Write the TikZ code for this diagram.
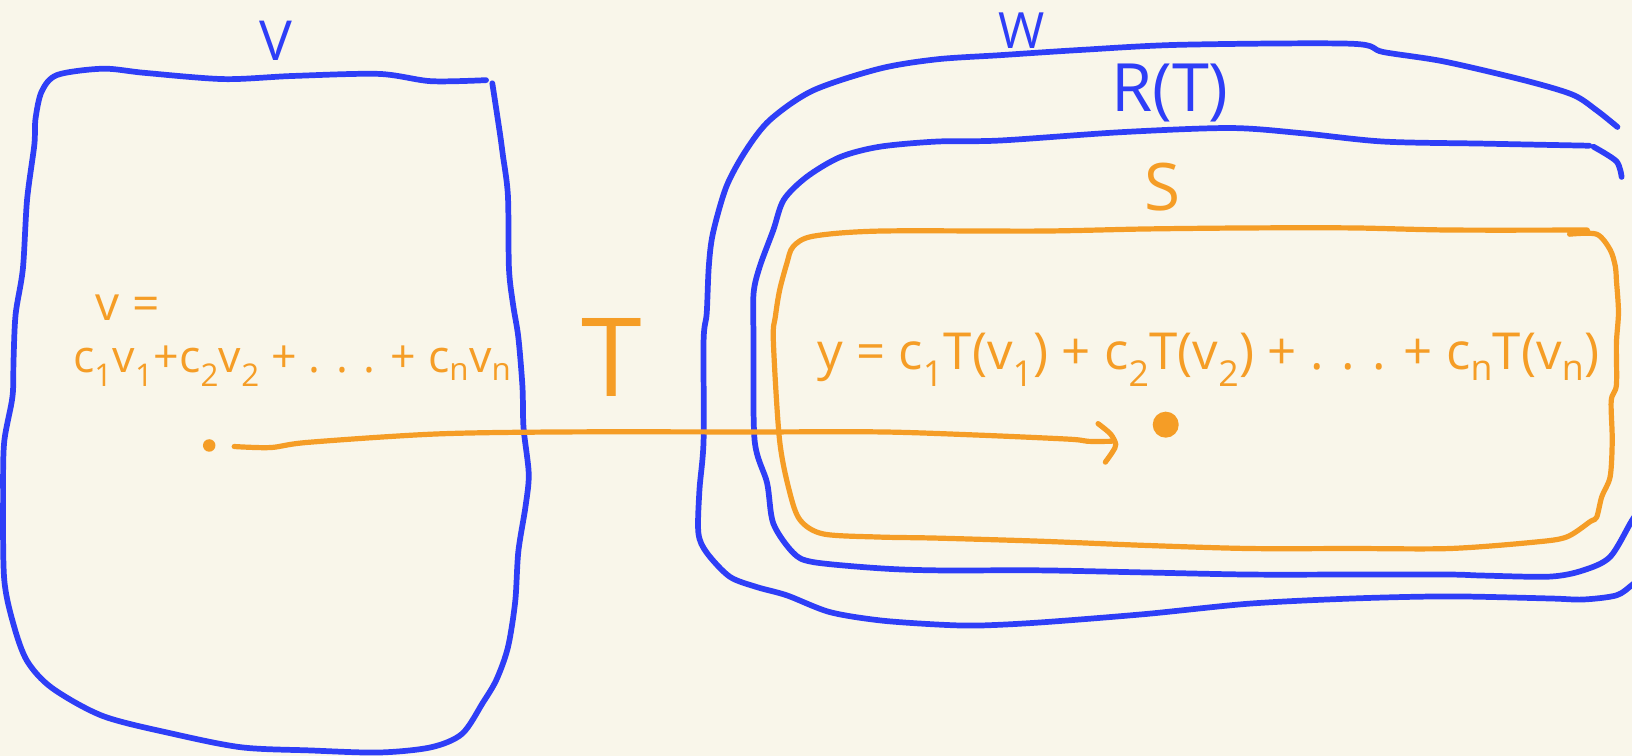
\documentclass[tikz,border=0pt]{standalone}
\usepackage{fontspec}
\setmainfont{Open Sans}
\usetikzlibrary{calc}
\definecolor{paper}{RGB}{249,246,234}
\definecolor{inkblue}{RGB}{46,62,247}
\definecolor{inkorange}{RGB}{245,157,38}
\tikzset{
  blueink/.style={draw=inkblue, line width=5.5pt, line cap=round, line join=round},
  orangeink/.style={draw=inkorange, line width=5pt, line cap=round, line join=round},
  bluelabel/.style={text=inkblue, inner sep=0pt},
  orangelabel/.style={text=inkorange, inner sep=0pt},
  dotmark/.style={circle, fill=inkorange, inner sep=0pt, minimum size=#1},
}
\newcommand{\fs}[1]{\fontsize{#1}{#1}\selectfont}
\newcommand{\ix}[1]{\textsubscript{#1}}
\begin{document}
\begin{tikzpicture}[x=1pt,y=-1pt]
\useasboundingbox (0,0) rectangle (1568,726);
\fill[paper] (0,0) rectangle (1568,726);
\clip (0,0) rectangle (1568,726);

% ---- domain V ----
\draw[blueink] plot[smooth] coordinates {
  (467,77) (414,78) (364,71) (281,73) (215,76) (139,70) (99,66) (55,72)
  (40,88) (34,115) (33,139) (26,192) (22,258) (15,302) (13,346) (12,381)
  (4,425) (3,477) (4,556) (13,600) (26,635) (50,661) (99,688) (166,705)
  (232,718) (298,721) (364,723) (414,718) (444,705) (464,675) (477,653)
  (488,622) (495,578) (498,530) (505,486) (508,455) (503,411) (502,372)
  (498,324) (493,293) (489,258) (488,188) (483,148) (480,126) (473,80)};
\node[bluelabel, font=\fs{53}] (lblV) at (265,39) {V};

% ---- codomain W ----
\draw[blueink] plot[smooth] coordinates {
  (1580,552) (1568,562) (1553,572) (1521,576) (1489,575) (1393,573)
  (1300,575) (1200,580) (1100,590) (1000,598) (940,601) (900,600) (845,596)
  (797,588) (756,572) (727,564) (701,554) (679,531) (671,512) (672,471)
  (676,423) (676,327) (679,301) (681,256) (685,224) (698,179) (717,144)
  (740,115) (781,87) (845,66) (900,57) (961,53) (1038,48) (1135,43)
  (1298,42) (1329,50) (1387,59) (1464,77) (1511,91) (1534,106) (1554,122)};
\node[bluelabel, font=\fs{48}] (lblW) at (982,29) {W};

% ---- range R(T) ----
\draw[blueink] plot[smooth] coordinates {
  (1578,486) (1568,500) (1547,535) (1521,548) (1489,554) (1425,553)
  (1393,552) (1300,552) (1200,552) (1100,550) (1000,548) (900,548) (845,546)
  (781,540) (762,531) (743,503) (737,464) (725,423) (724,327) (724,282)
  (730,256) (743,221) (753,192) (775,170) (807,151) (845,141) (900,136)
  (961,135) (1077,127) (1182,123) (1251,128) (1329,136) (1426,138) (1527,140)};
\draw[blueink] plot[smooth] coordinates {(1531,141) (1553,155) (1558,170)};
\node[bluelabel, font=\fs{64}] (lblR) at (1124,89) {R(T)};

% ---- subset S ----
\draw[orangeink] plot[smooth] coordinates {
  (1508,225) (1534,225) (1547,240) (1552,256) (1553,269) (1555,300)
  (1553,330) (1553,370) (1548,385) (1549,423) (1547,458) (1539,477)
  (1534,497) (1528,501) (1505,516) (1473,521) (1393,527) (1300,527)
  (1200,527) (1100,524) (1000,520) (900,517) (845,516) (791,513) (769,500)
  (759,474) (749,423) (743,327) (745,304) (749,279) (756,253) (762,237)
  (781,227) (845,222) (1000,222) (1100,220) (1200,219) (1300,219)
  (1393,221) (1525,221)};
\node[orangelabel, font=\fs{63}] (lblS) at (1117,180) {S};

% ---- the map T ----
\node[orangelabel, font=\fs{105}] (lblT) at (588,343) {T};

% ---- vectors ----
\node[orangelabel, font=\fs{46}, anchor=base west] (veq) at (92,308) {v =};
\node[orangelabel, font=\fs{43}, anchor=base west] (vsum) at (70,358)
  {c\ix{1}v\ix{1}+c\ix{2}v\ix{2} + . . . + c\ix{n}v\ix{n}};
\node[orangelabel, font=\fs{49}, anchor=base west] (ysum) at (785,355)
  {y = c\ix{1}T(v\ix{1}) + c\ix{2}T(v\ix{2}) + . . . + c\ix{n}T(v\ix{n})};

\node[dotmark=12pt] (vpt) at (201,428) {};
\node[dotmark=25pt] (ypt) at (1120,408) {};

\coordinate (vstart) at ($(vpt)+(24,1)$);
\coordinate (yend) at ($(ypt)+(-52,16)$);
\draw[orangeink] plot[smooth] coordinates {
  (vstart) (260,430) (296,425) (418,417) (541,415) (724,415) (847,415)
  (939,418) (1028,422) (1045,424) (yend)};
\draw[orangeink] plot[smooth] coordinates {
  ($(yend)+(-13,-17)$) ($(yend)+(-1,-7)$) ($(yend)+(4,3)$)
  ($(yend)+(1,10)$) ($(yend)+(-6,20)$)};
\end{tikzpicture}
\end{document}
